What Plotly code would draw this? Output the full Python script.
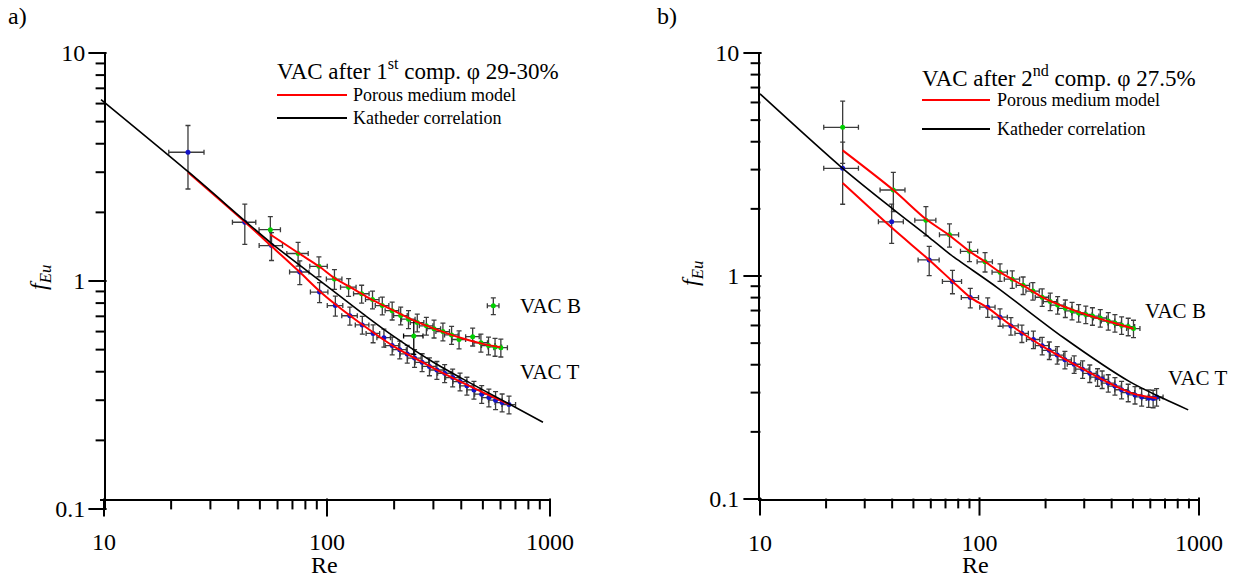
import math
import plotly.graph_objects as go

W, H = 1236, 575

# ---------------- panel a) : VAC after 1st compression ----------------
a_B_re = [55.7, 74.2, 92, 108, 125, 143, 160, 177, 196, 214, 232, 254, 279, 302, 331, 362, 391, 450, 490, 530, 567, 602]
a_B_f = [1.68, 1.32, 1.16, 1.02, 0.94, 0.879, 0.829, 0.78, 0.741, 0.705, 0.68, 0.657, 0.636, 0.618, 0.60, 0.58, 0.554, 0.57, 0.536, 0.521, 0.514, 0.51]
a_B_ex = [0.11, 0.11, 0.09, 0.08, 0.08, 0.08, 0.07, 0.07, 0.07, 0.07, 0.07, 0.07, 0.07, 0.07, 0.07, 0.07, 0.07, 0.07, 0.07, 0.07, 0.07, 0.07]
a_B_ey = [0.14, 0.12, 0.10, 0.10, 0.09, 0.09, 0.09, 0.09, 0.09, 0.09, 0.09, 0.09, 0.09, 0.09, 0.09, 0.09, 0.09, 0.09, 0.09, 0.09, 0.09, 0.09]

a_odd_re = [245]
a_odd_f = [0.574]
a_odd_ex = [0.10]
a_odd_ey = [0.17]

a_T_re = [23.8, 42.8, 56.4, 75.5, 92.6, 109, 126.6, 144, 161, 180, 196, 212, 229, 247, 267, 288, 311, 337, 366, 395, 424, 456, 494, 532, 570, 610, 655]
a_T_f = [3.67, 1.81, 1.43, 1.095, 0.894, 0.78, 0.704, 0.642, 0.589, 0.564, 0.521, 0.50, 0.479, 0.459, 0.44, 0.422, 0.407, 0.394, 0.377, 0.362, 0.347, 0.333, 0.319, 0.308, 0.30, 0.293, 0.287]
a_T_ex = [0.18, 0.12, 0.12, 0.10, 0.09, 0.08, 0.08, 0.07, 0.07, 0.07, 0.07, 0.07, 0.07, 0.07, 0.07, 0.07, 0.07, 0.07, 0.07, 0.07, 0.07, 0.07, 0.07, 0.07, 0.07, 0.07, 0.07]
a_T_ey = [0.31, 0.20, 0.14, 0.12, 0.10, 0.10, 0.09, 0.09, 0.09, 0.09, 0.09, 0.09, 0.09, 0.09, 0.09, 0.09, 0.09, 0.09, 0.09, 0.09, 0.09, 0.09, 0.09, 0.09, 0.09, 0.09, 0.09]

a_key_re = [557]
a_key_f = [0.778]

a_modT_re = [23.8, 43, 56, 75, 93, 110, 150, 200, 300, 400, 500, 655]
a_modT_f = [3.0, 1.81, 1.43, 1.10, 0.90, 0.785, 0.625, 0.515, 0.415, 0.36, 0.325, 0.288]
a_modB_re = [55.7, 75, 92, 108, 125, 150, 200, 250, 300, 400, 500, 600]
a_modB_f = [1.60, 1.32, 1.16, 1.03, 0.95, 0.855, 0.74, 0.665, 0.62, 0.562, 0.53, 0.512]
a_kat_re = [9.7, 24, 43, 56, 100, 150, 200, 300, 400, 650, 930]
a_kat_f = [6.25, 3.0, 1.83, 1.47, 0.95, 0.70, 0.57, 0.44, 0.375, 0.29, 0.24]

# ---------------- panel b) : VAC after 2nd compression ----------------
b_B_re = [23.8, 40.5, 57, 73, 90, 106, 124, 141, 158, 175, 193, 210, 227, 246, 264, 283, 305, 327, 355, 386, 414, 444, 476, 503]
b_B_f = [4.64, 2.43, 1.78, 1.53, 1.29, 1.158, 1.04, 0.968, 0.908, 0.856, 0.803, 0.768, 0.741, 0.716, 0.698, 0.683, 0.672, 0.661, 0.648, 0.628, 0.616, 0.601, 0.593, 0.581]
b_B_ex = [0.18, 0.13, 0.11, 0.10, 0.09, 0.08, 0.08, 0.08, 0.07, 0.07, 0.07, 0.07, 0.07, 0.07, 0.07, 0.07, 0.07, 0.07, 0.07, 0.07, 0.07, 0.07, 0.07, 0.07]
b_B_ey = [0.31, 0.20, 0.15, 0.12, 0.10, 0.10, 0.09, 0.09, 0.09, 0.09, 0.09, 0.09, 0.09, 0.09, 0.09, 0.09, 0.09, 0.09, 0.09, 0.09, 0.09, 0.09, 0.09, 0.09]

b_T_re = [23.8, 39.8, 59, 75.3, 90.8, 109, 124, 139, 156, 176, 193, 208, 226, 245, 270, 295, 318, 345, 362, 386, 414, 444, 476, 511, 548, 590, 618, 641]
b_T_f = [3.04, 1.75, 1.18, 0.946, 0.80, 0.725, 0.654, 0.597, 0.553, 0.519, 0.487, 0.464, 0.442, 0.421, 0.402, 0.382, 0.366, 0.352, 0.344, 0.331, 0.321, 0.309, 0.30, 0.293, 0.287, 0.283, 0.282, 0.287]
b_T_ex = [0.18, 0.13, 0.11, 0.10, 0.09, 0.08, 0.08, 0.08, 0.07, 0.07, 0.07, 0.07, 0.07, 0.07, 0.07, 0.07, 0.07, 0.07, 0.07, 0.07, 0.07, 0.07, 0.07, 0.07, 0.07, 0.07, 0.07, 0.07]
b_T_ey = [0.31, 0.20, 0.15, 0.12, 0.10, 0.10, 0.09, 0.09, 0.09, 0.09, 0.09, 0.09, 0.09, 0.09, 0.09, 0.09, 0.09, 0.09, 0.09, 0.09, 0.09, 0.09, 0.09, 0.09, 0.09, 0.09, 0.09, 0.09]

b_modT_re = [23.8, 40, 59, 75, 91, 109, 140, 200, 300, 400, 500, 641]
b_modT_f = [2.61, 1.64, 1.18, 0.95, 0.80, 0.72, 0.598, 0.475, 0.38, 0.327, 0.297, 0.283]
b_modB_re = [23.8, 40.5, 57, 73, 90, 106, 124, 160, 200, 300, 400, 503]
b_modB_f = [3.66, 2.43, 1.80, 1.52, 1.29, 1.16, 1.04, 0.90, 0.79, 0.676, 0.62, 0.58]
b_kat_re = [10, 23.8, 40.5, 59.5, 73.5, 120, 241, 485, 689, 893]
b_kat_f = [6.56, 3.04, 1.99, 1.48, 1.25, 0.89, 0.53, 0.335, 0.282, 0.251]

x_ticks = [10, 100, 1000]
x_ticktext = ["10", "100", "1000"]
x_minor = [20, 30, 40, 50, 60, 70, 80, 90, 200, 300, 400, 500, 600, 700, 800, 900]
y_ticks = [0.1, 1, 10]
y_ticktext = ["0.1", "1", "10"]
y_minor = [0.2, 0.3, 0.4, 0.5, 0.6, 0.7, 0.8, 0.9, 2, 3, 4, 5, 6, 7, 8, 9]

FONT = "Liberation Serif"
GREEN = "#00d000"
BLUE = "#1414c8"
ERR = "#3c3c3c"

# panel frames (pixels in the 1236x575 page)
A_X0, A_X1, A_YAX = 100, 550, 105      # x domain, y-axis line position
A_Y0, A_Y1, A_XAX = 509, 53, 500       # y domain (0.1 .. 10), x-axis line position
B_X0, B_X1 = 760, 1199
B_Y0, B_Y1 = 499, 53
MAJ, MIN = 13, 7


def px(x):
    return x / W


def py(y):
    return 1 - y / H


def points(re, f, ex, ey, color, xa, ya, errcolor=ERR):
    return go.Scatter(
        x=re, y=f, mode="markers", xaxis=xa, yaxis=ya,
        marker=dict(color=color, size=5),
        error_x=dict(type="data", array=[r * e for r, e in zip(re, ex)],
                     arrayminus=[r * e for r, e in zip(re, ex)],
                     color=errcolor, thickness=1.3, width=2.5),
        error_y=dict(type="data", array=[v * e for v, e in zip(f, ey)],
                     arrayminus=[v * e for v, e in zip(f, ey)],
                     color=errcolor, thickness=1.3, width=2.5),
        showlegend=False, hoverinfo="x+y")


def curve(re, f, color, width, xa, ya):
    return go.Scatter(x=re, y=f, mode="lines", xaxis=xa, yaxis=ya,
                      line=dict(color=color, width=width, shape="spline", smoothing=0.8),
                      showlegend=False, hoverinfo="skip")


traces = []
# panel a
traces.append(points(a_T_re, a_T_f, a_T_ex, a_T_ey, BLUE, "x", "y"))
traces.append(points(a_B_re, a_B_f, a_B_ex, a_B_ey, GREEN, "x", "y"))
traces.append(points(a_odd_re, a_odd_f, a_odd_ex, a_odd_ey, GREEN, "x", "y", errcolor="black"))
traces.append(points(a_key_re, a_key_f, [0.06], [0.085], GREEN, "x", "y"))
traces.append(curve(a_modT_re, a_modT_f, "#ff0000", 2, "x", "y"))
traces.append(curve(a_modB_re, a_modB_f, "#ff0000", 2, "x", "y"))
traces.append(curve(a_kat_re, a_kat_f, "black", 1.6, "x", "y"))
# panel b
traces.append(points(b_T_re, b_T_f, b_T_ex, b_T_ey, BLUE, "x2", "y2"))
traces.append(points(b_B_re, b_B_f, b_B_ex, b_B_ey, GREEN, "x2", "y2"))
traces.append(curve(b_modT_re, b_modT_f, "#ff0000", 2, "x2", "y2"))
traces.append(curve(b_modB_re, b_modB_f, "#ff0000", 2, "x2", "y2"))
traces.append(curve(b_kat_re, b_kat_f, "black", 1.6, "x2", "y2"))

# x range of panel a starts a little left of 10 so the y-axis sits just right of the 10 tick
a_xrange = [1 - 4 / ((A_X1 - (A_X0 + 4)) / 2), 3]


# tick marks: short line markers placed along each log axis; the cross direction uses
# hidden full-page helper axes (x3: page pixels from the left, y3: page pixels from the top)
def tick_traces(xa, ya, x_axis_px, y_axis_px):
    out = []
    for vals, ln in ((x_ticks, MAJ), (x_minor, MIN)):
        out.append(go.Scatter(x=vals, y=[x_axis_px + ln / 2 + 1] * len(vals), xaxis=xa, yaxis="y3",
                              mode="markers", cliponaxis=False,
                              marker=dict(symbol="line-ns", size=ln, line=dict(color="black", width=2)),
                              showlegend=False, hoverinfo="skip"))
    for vals, ln in ((y_ticks, MAJ), (y_minor, MIN)):
        out.append(go.Scatter(x=[y_axis_px - ln / 2 - 1] * len(vals), y=vals, xaxis="x3", yaxis=ya,
                              mode="markers", cliponaxis=False,
                              marker=dict(symbol="line-ew", size=ln, line=dict(color="black", width=2)),
                              showlegend=False, hoverinfo="skip"))
    return out


traces += tick_traces("x", "y", A_XAX, A_YAX)
traces += tick_traces("x2", "y2", B_Y0, B_X0)

fig = go.Figure(data=traces)

axis_common = dict(
    type="log", showline=True, linecolor="black", linewidth=2, ticks="",
    showgrid=False, zeroline=False, automargin=False,
    tickfont=dict(family=FONT, size=24, color="black"),
)

xa1 = dict(axis_common, range=a_xrange, domain=[px(A_X0), px(A_X1)],
           tickmode="array", tickvals=x_ticks, ticktext=x_ticktext, ticklabelstandoff=20,
           anchor="free", position=py(A_XAX))
ya1 = dict(axis_common, range=[-1, 1], domain=[py(A_Y0), py(A_Y1)],
           tickmode="array", tickvals=y_ticks, ticktext=y_ticktext, ticklabelstandoff=14,
           anchor="free", position=px(A_YAX))
xa2 = dict(axis_common, range=[1, 3], domain=[px(B_X0), px(B_X1)],
           tickmode="array", tickvals=x_ticks, ticktext=x_ticktext, ticklabelstandoff=21,
           anchor="y2")
ya2 = dict(axis_common, range=[-1, 1], domain=[py(B_Y0), py(B_Y1)],
           tickmode="array", tickvals=y_ticks, ticktext=y_ticktext, ticklabelstandoff=14,
           anchor="x2")
xa3 = dict(visible=False, range=[0, W], domain=[0, 1], anchor="free", position=0, fixedrange=True)
ya3 = dict(visible=False, range=[H, 0], domain=[0, 1], anchor="free", position=0, fixedrange=True)

fig.update_layout(
    template="none",
    width=W, height=H, autosize=False,
    margin=dict(l=0, r=0, t=0, b=0),
    paper_bgcolor="white", plot_bgcolor="rgba(0,0,0,0)",
    font=dict(family=FONT, color="black"),
    showlegend=False,
    xaxis=xa1, yaxis=ya1, xaxis2=xa2, yaxis2=ya2, xaxis3=xa3, yaxis3=ya3,
)

ann = []


def text(x, y, s, size, xanchor="left", **kw):
    ann.append(dict(x=px(x), y=py(y), xref="paper", yref="paper", text=s, showarrow=False,
                    xanchor=xanchor, yanchor="middle", font=dict(family=FONT, size=size, color="black"), **kw))


text(17, 16, "a)", 24, xanchor="center")
text(667, 16, "b)", 24, xanchor="center")
text(324, 565, "Re", 24, xanchor="center")
text(975, 565, "Re", 24, xanchor="center")
text(40, 278, "<i>f</i><sub><i>Eu</i></sub>", 24, xanchor="center", textangle=-90)
text(692, 274, "<i>f</i><sub><i>Eu</i></sub>", 24, xanchor="center", textangle=-90)

# legend blocks
text(275, 70, "VAC after 1<sup>st</sup> comp. φ 29-30%", 23)
text(351, 95, "Porous medium model", 18)
text(351, 118, "Katheder correlation", 18)
text(920, 77, "VAC after 2<sup>nd</sup> comp. φ 27.5%", 23)
text(995, 100, "Porous medium model", 18)
text(995, 129, "Katheder correlation", 18)

# series labels in data coordinates
for xa, ya, re, f, s in [("x", "y", 720, 0.78, "VAC B"), ("x", "y", 720, 0.397, "VAC T"),
                         ("x2", "y2", 555, 0.70, "VAC B"), ("x2", "y2", 708, 0.35, "VAC T")]:
    ann.append(dict(x=math.log10(re), y=math.log10(f), xref=xa, yref=ya, text=s, showarrow=False,
                    xanchor="left", yanchor="middle", font=dict(family=FONT, size=21, color="black")))

fig.update_layout(annotations=ann)

shapes = [
    dict(type="line", xref="paper", yref="paper", x0=px(277), x1=px(347), y0=py(95), y1=py(95),
         line=dict(color="#ff0000", width=2)),
    dict(type="line", xref="paper", yref="paper", x0=px(277), x1=px(347), y0=py(118), y1=py(118),
         line=dict(color="black", width=2)),
    dict(type="line", xref="paper", yref="paper", x0=px(922), x1=px(990), y0=py(100), y1=py(100),
         line=dict(color="#ff0000", width=2)),
    dict(type="line", xref="paper", yref="paper", x0=px(922), x1=px(990), y0=py(129), y1=py(129),
         line=dict(color="black", width=2)),
]
fig.update_layout(shapes=shapes)

# the page body has a default 8px margin; remove it so the figure fills the window
fig.write_html("out.html", config={"displayModeBar": False},
               post_script="document.body.style.margin='0px';")
